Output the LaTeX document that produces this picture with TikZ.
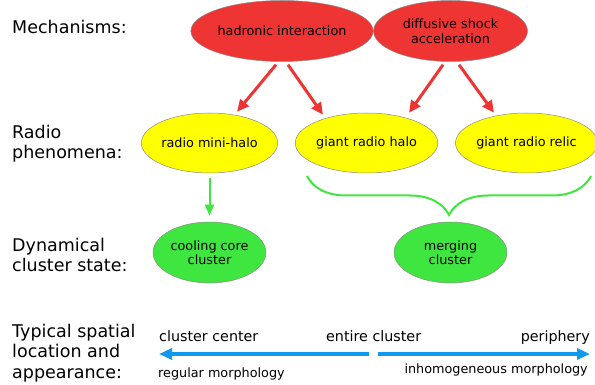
\documentclass[tikz,border=0pt]{standalone}
\usepackage{fontspec}
\setmainfont{DejaVu Sans}
\usetikzlibrary{shapes.geometric,positioning,arrows.meta,decorations.pathreplacing}

\definecolor{mechred}{RGB}{239,52,52}
\definecolor{phenoyel}{RGB}{255,255,0}
\definecolor{stategreen}{RGB}{64,230,64}
\definecolor{axisblue}{RGB}{17,153,238}

\tikzset{
  blob/.style={ellipse,draw=black!45,line width=0.5pt,inner sep=0pt,align=center,
    font=\fontsize{12.8}{14.5}\selectfont},
  mech/.style={blob,fill=mechred,minimum width=154pt,minimum height=61pt},
  pheno/.style={blob,fill=phenoyel,minimum width=128pt,minimum height=60pt},
  cstate/.style={blob,fill=stategreen,minimum width=113pt,minimum height=61pt},
  rowlabel/.style={anchor=base west,inner sep=0pt,align=left,
    font=\fontsize{17.5}{20.5}\selectfont},
  axislabel/.style={inner sep=0pt,font=\fontsize{14.3}{16}\selectfont},
  morphlabel/.style={inner sep=0pt,font=\fontsize{12.8}{15}\selectfont},
  redarr/.style={-{Triangle[length=12pt,width=11pt]},mechred,line width=3pt},
  bluearr/.style={-{Triangle[length=13pt,width=11pt]},axisblue,line width=3.3pt}
}

\begin{document}
\begin{tikzpicture}[x=1pt,y=-1pt,on grid]
   \useasboundingbox (0,0) rectangle (595,385);

   % row titles (base = last line)
   \node[rowlabel] (t_mech)  at (12,34)  {Mechanisms:};
   \node[rowlabel] (t_radio) at (12,159) {Radio\\phenomena:};
   \node[rowlabel] (t_dyn)   at (12,272) {Dynamical\\cluster state:};
   \node[rowlabel] (t_loc)   at (12,378) {Typical spatial\\location and\\appearance:};

   % mechanisms
   \node[mech] (had) at (282,31) {hadronic interaction};
   \node[mech] (dsa) [right=168.5pt of had] {diffusive shock\\acceleration};

   % radio phenomena
   \node[pheno] (mini) [below left=112pt and 72.5pt of had] {radio mini-halo};
   \node[pheno] (grh) [right=157pt of mini] {giant radio halo};
   \node[pheno] (grr) [right=160pt of grh] {giant radio relic};

   % cluster state
   \node[cstate] (cc) [below=109.5pt of mini] {cooling core\\cluster};
   \node[cstate] (mc) [right=241pt of cc] {merging\\cluster};

   \draw[redarr] ([xshift=-6pt,yshift=-3pt]had.south) -- ([xshift=27.5pt,yshift=1pt]mini.north);
   \draw[redarr] ([xshift=6pt,yshift=-3pt]had.south) -- ([xshift=-43.5pt,yshift=-2pt]grh.north);
   \draw[redarr] ([xshift=-7.5pt,yshift=-3pt]dsa.south) -- ([xshift=42.5pt]grh.north);
   \draw[redarr] ([xshift=8.5pt,yshift=-3pt]dsa.south) -- ([xshift=-32.5pt]grr.north);

   \draw[-{Triangle[length=11pt,width=9pt]},stategreen,line width=2pt,
         shorten <=5pt,shorten >=6pt] (mini.south) -- (cc.north);

   % brace over halo and relic
   \coordinate (br_r) at (591,176);
   \coordinate (br_l) at (307,176);
   \draw[stategreen,line width=2pt,decorate,decoration={brace,amplitude=39pt}]
     (br_r) -- (br_l);

   % location axis
   \node[axislabel,anchor=base west] (c_cen) at (159,341) {cluster center};
   \node[axislabel,anchor=base west] (c_ent) at (326,341) {entire cluster};
   \node[axislabel,anchor=base east] (c_per) at (590,341) {periphery};
   \node[morphlabel,anchor=base west] (m_reg) at (158,377) {regular morphology};
   \node[morphlabel,anchor=base east] (m_inh) at (588,373) {inhomogeneous morphology};

   \coordinate (ax_l) at (159,354);
   \coordinate (ax_ml) at (369,354);
   \coordinate (ax_mr) at (378,354);
   \coordinate (ax_r) at (590,354);
   \draw[bluearr] (ax_ml) -- (ax_l);
   \draw[bluearr] (ax_mr) -- (ax_r);
\end{tikzpicture}
\end{document}
